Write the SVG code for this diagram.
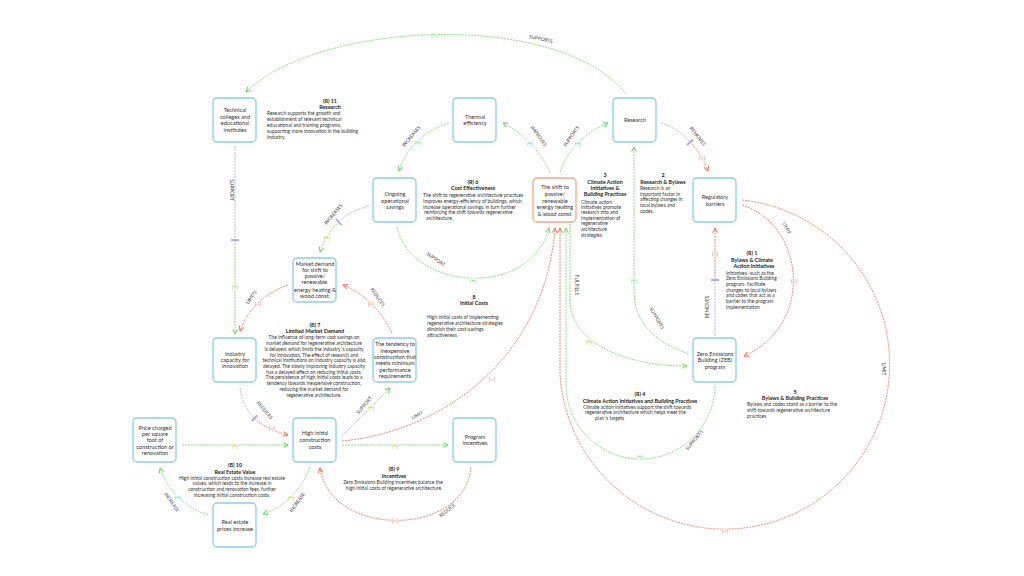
<svg xmlns="http://www.w3.org/2000/svg" width="1024" height="576" viewBox="0 0 1024 576">
<defs>
<marker id="ag" viewBox="0 0 10 10" refX="9" refY="5" markerWidth="6" markerHeight="6" markerUnits="userSpaceOnUse" orient="auto"><path d="M1,1 L9,5 L1,9" fill="none" stroke="#62d655" stroke-width="1.6"/></marker>
<marker id="ar" viewBox="0 0 10 10" refX="9" refY="5" markerWidth="6" markerHeight="6" markerUnits="userSpaceOnUse" orient="auto"><path d="M1,1 L9,5 L1,9" fill="none" stroke="#f06a4c" stroke-width="1.6"/></marker>
<style>
.box{fill:#fff;stroke:#8ccbef;stroke-width:1.3}
.obox{fill:#fff;stroke:#f2a986;stroke-width:1.3}
.n{font-family:Lato,"Liberation Sans",sans-serif;font-size:5.6px;fill:#333;text-anchor:middle}
.t{font-family:Lato,"Liberation Sans",sans-serif;font-size:5.4px;font-weight:bold;fill:#222;text-anchor:middle}
.b{font-family:Lato,"Liberation Sans",sans-serif;font-size:4.9px;fill:#333}
.bc{font-family:Lato,"Liberation Sans",sans-serif;font-size:4.9px;fill:#333;text-anchor:middle}
.lab{font-family:Lato,"Liberation Sans",sans-serif;font-size:4.8px;fill:#444;text-anchor:middle;dominant-baseline:central}
.pp{font-family:Lato,"Liberation Sans",sans-serif;font-size:5.6px;fill:#5fd452;text-anchor:middle;dominant-baseline:central;stroke:#fff;stroke-width:1.4;paint-order:stroke}
.pm{font-family:Lato,"Liberation Sans",sans-serif;font-size:5.6px;fill:#f06a4c;text-anchor:middle;dominant-baseline:central;stroke:#fff;stroke-width:1.4;paint-order:stroke}
.g{fill:none;stroke:#6bdc5c;stroke-width:0.8;stroke-dasharray:2 1}
.r{fill:none;stroke:#f06a4c;stroke-width:0.8;stroke-dasharray:2 1}
.p{fill:none;stroke:#aaa4ee;stroke-width:0.8;stroke-dasharray:2 1}
.bar{stroke:#aaa4ee;stroke-width:1.8}
</style>
</defs>
<rect width="1024" height="576" fill="#fff"/>

<g id="connectors">
<path class="g" d="M626 94 C560 10 320 20 246 92" marker-end="url(#ag)"/>
<path class="p" d="M235 146 V240"/>
<path class="g" d="M235 240 V334" marker-end="url(#ag)"/>
<line class="bar" x1="231" y1="240" x2="239" y2="240"/>
<path class="g" d="M449 123 Q410 136 399 171" marker-end="url(#ag)"/>
<path class="g" d="M550 172 Q533 138 503 123" marker-end="url(#ag)"/>
<path class="g" d="M560 172 Q572 138 608 123" marker-end="url(#ag)"/>
<path class="p" d="M661 123 Q678 128 690 142"/>
<path class="r" d="M690 142 Q701 153 708 171" marker-end="url(#ar)"/>
<line class="bar" x1="687" y1="145" x2="693" y2="139.5"/>
<path class="r" d="M742 200 A165 165 0 1 1 560 375 L560 228" marker-end="url(#ar)"/>
<path class="r" d="M742 205 C805 225 815 325 744 356" marker-end="url(#ar)"/>
<path class="p" d="M715 336 V280"/>
<path class="r" d="M715 280 V228" marker-end="url(#ar)"/>
<line class="bar" x1="711" y1="280" x2="719" y2="280"/>
<path class="g" d="M689 354 C650 340 634 320 634 290 L634 147" marker-end="url(#ag)"/>
<path class="g" d="M570 224 L570 300 C570 340 620 366 687 366" marker-end="url(#ag)"/>
<path class="g" d="M715 386 A74.5 74.5 0 0 1 566 383 L566 228" marker-end="url(#ag)"/>
<path class="g" d="M397 227 C410 290 530 300 549 228" marker-end="url(#ag)"/>
<path class="p" d="M369 206 Q351 210.5 338.75 222"/>
<path class="g" d="M338.75 222 Q326.5 233.5 320 252" marker-end="url(#ag)"/>
<line class="bar" x1="336" y1="219" x2="341.5" y2="225"/>
<path class="r" d="M288 285 Q252 298 240 331" marker-end="url(#ar)"/>
<path class="r" d="M392 333 Q374 297 343 285" marker-end="url(#ar)"/>
<path class="p" d="M240 388 Q242.5 406.5 254.5 418.25"/>
<path class="r" d="M254.5 418.25 Q266.5 430 288 435" marker-end="url(#ar)"/>
<line class="bar" x1="251.7" y1="421.2" x2="257.3" y2="415.3"/>
<path class="g" d="M342 436 Q376 402 390 388" marker-end="url(#ag)"/>
<path class="r" d="M342 441 C440 432 545 360 555 228" marker-end="url(#ar)"/>
<path class="g" d="M342 445 L448 445" marker-end="url(#ag)"/>
<path class="g" d="M182 445 L288 445" marker-end="url(#ag)"/>
<path class="r" d="M471 467 C465 538 330 538 320 468" marker-end="url(#ar)"/>
<path class="g" d="M310 467 Q295.5 503.5 263 514" marker-end="url(#ag)"/>
<path class="g" d="M208 515 Q172 502.5 160 468" marker-end="url(#ag)"/>

<text class="lab" transform="translate(541,38.5) rotate(12)">SUPPORTS</text>
<text class="lab" transform="translate(232,190) rotate(90)">SUPPORT</text>
<text class="lab" transform="translate(411,136) rotate(-50)">INCREASES</text>
<text class="lab" transform="translate(539,136) rotate(55)">IMPROVES</text>
<text class="lab" transform="translate(571,136) rotate(-55)">SUPPORTS</text>
<text class="lab" transform="translate(698,136) rotate(52)">REMOVES</text>
<text class="lab" transform="translate(787,228) rotate(62)">LIMIT</text>
<text class="lab" transform="translate(707,307) rotate(-90)">REMOVES</text>
<text class="lab" transform="translate(657,318) rotate(60)">SUPPORTS</text>
<text class="lab" transform="translate(577,285) rotate(90)">FULFILLS</text>
<text class="lab" transform="translate(694,440) rotate(-50)">SUPPORTS</text>
<text class="lab" transform="translate(884,369) rotate(90)">LIMIT</text>
<text class="lab" transform="translate(436,259) rotate(35)">SUPPORT</text>
<text class="lab" transform="translate(333,214) rotate(-50)">INCREASES</text>
<text class="lab" transform="translate(251,297) rotate(-55)">LIMITS</text>
<text class="lab" transform="translate(378,297) rotate(55)">REDUCES</text>
<text class="lab" transform="translate(265,410) rotate(50)">REDUCES</text>
<text class="lab" transform="translate(364,405) rotate(-50)">SUPPORT</text>
<text class="lab" transform="translate(417,415) rotate(-30)">LIMIT</text>
<text class="lab" transform="translate(447,510) rotate(-40)">REDUCE</text>
<text class="lab" transform="translate(297,502) rotate(-55)">INCREASE</text>
<text class="lab" transform="translate(172,502) rotate(55)">INCREASE</text>

<text class="pp" x="434" y="34">(+)</text>
<text class="pp" x="235" y="286">(+)</text>
<text class="pp" x="418" y="142.5">(+)</text>
<text class="pp" x="530" y="143">(+)</text>
<text class="pp" x="578" y="143">(+)</text>
<text class="pm" x="702" y="157">(−)</text>
<text class="pm" x="715" y="253">(−)</text>
<text class="pm" x="794" y="280">(−)</text>
<text class="pp" x="634" y="280">(+)</text>
<text class="pp" x="589" y="341">(+)</text>
<text class="pp" x="640" y="456">(+)</text>
<text class="pm" x="725" y="530">(−)</text>
<text class="pp" x="473" y="280">(+)</text>
<text class="pp" x="327" y="237">(+)</text>
<text class="pm" x="258" y="303">(−)</text>
<text class="pm" x="371" y="303">(−)</text>
<text class="pm" x="272" y="427">(−)</text>
<text class="pp" x="371" y="407">(+)</text>
<text class="pm" x="492" y="378">(−)</text>
<text class="pp" x="395" y="445">(+)</text>
<text class="pp" x="235" y="445">(+)</text>
<text class="pm" x="395" y="520">(−)</text>
<text class="pp" x="291" y="497">(+)</text>
<text class="pp" x="178" y="497">(+)</text>
</g>

<g id="n-tech"><rect class="box" x="213" y="98" width="43" height="44" rx="4"/>
<text class="n" x="235" y="112">Technical</text><text class="n" x="235" y="118.7">colleges and</text><text class="n" x="235" y="125.3">educational</text><text class="n" x="235" y="132">institutes</text></g>
<g id="n-thermal"><rect class="box" x="453" y="98" width="43" height="44" rx="4"/>
<text class="n" x="475" y="118.7">Thermal</text><text class="n" x="475" y="125.3">efficiency</text></g>
<g id="n-research"><rect class="box" x="613" y="98" width="43" height="44" rx="4"/>
<text class="n" x="635" y="122">Research</text></g>
<g id="n-ongoing"><rect class="box" x="373" y="178" width="43" height="44" rx="4"/>
<text class="n" x="395" y="196">Ongoing</text><text class="n" x="395" y="202.5">operational</text><text class="n" x="395" y="209">savings</text></g>
<g id="n-shift"><rect class="obox" x="533" y="178" width="43" height="44" rx="4"/>
<text class="n" x="555" y="189.3">The shift to</text><text class="n" x="555" y="196">passive/</text><text class="n" x="555" y="202.7">renewable</text><text class="n" x="555" y="209.3">energy heating</text><text class="n" x="555" y="216">&amp; wood const.</text></g>
<g id="n-regulatory"><rect class="box" x="693" y="178" width="43" height="44" rx="4"/>
<text class="n" x="715" y="199">Regulatory</text><text class="n" x="715" y="205.5">barriers</text></g>
<g id="n-market"><rect class="box" x="293" y="258" width="43" height="44" rx="4"/>
<text class="n" x="315" y="266">Market demand</text><text class="n" x="315" y="272">for shift to</text><text class="n" x="315" y="278">passive/</text><text class="n" x="315" y="284">renewable.</text><text class="n" x="315" y="291.5">energy heating &amp;</text><text class="n" x="315" y="298">wood const.</text></g>
<g id="n-industry"><rect class="box" x="213" y="338" width="43" height="44" rx="4"/>
<text class="n" x="235" y="356">Industry</text><text class="n" x="235" y="362">capacity for</text><text class="n" x="235" y="368">innovation</text></g>
<g id="n-tendency"><rect class="box" x="373" y="338" width="43" height="44" rx="4"/>
<text class="n" x="395" y="346.3">The tendency to</text><text class="n" x="395" y="352.5">inexpensive</text><text class="n" x="395" y="358.7">construction that</text><text class="n" x="395" y="365.3">meets minimum</text><text class="n" x="395" y="371.5">performance</text><text class="n" x="395" y="378">requirements</text></g>
<g id="n-zeb"><rect class="box" x="693" y="338" width="43" height="44" rx="4"/>
<text class="n" x="715" y="356">Zero Emissions</text><text class="n" x="715" y="362.3">Building (ZEB)</text><text class="n" x="715" y="368.7">program</text></g>
<g id="n-price"><rect class="box" x="133" y="418" width="43" height="44" rx="4"/>
<text class="n" x="155" y="429.7">Price charged</text><text class="n" x="155" y="436">per square</text><text class="n" x="155" y="442.3">foot of</text><text class="n" x="155" y="448.7">construction or</text><text class="n" x="155" y="455">renovation</text></g>
<g id="n-high"><rect class="box" x="293" y="418" width="43" height="44" rx="4"/>
<text class="n" x="315" y="435.3">High initial</text><text class="n" x="315" y="442">construction</text><text class="n" x="315" y="448.7">costs</text></g>
<g id="n-program"><rect class="box" x="453" y="418" width="43" height="44" rx="4"/>
<text class="n" x="475" y="438.7">Program</text><text class="n" x="475" y="445.3">incentives</text></g>
<g id="n-realestate"><rect class="box" x="213" y="503" width="43" height="44" rx="4"/>
<text class="n" x="235" y="524.3">Real estate</text><text class="n" x="235" y="531">prices increase</text></g>

<g id="loops">
<text class="t" x="330" y="103">(R) 11</text><text class="t" x="330" y="109">Research</text>
<text class="b" x="267" y="115.3">Research supports the growth and</text>
<text class="b" x="267" y="121">establishment of relevant technical</text>
<text class="b" x="267" y="127">educational and training programs,</text>
<text class="b" x="267" y="132.7">supporting more innovation in the building</text>
<text class="b" x="267" y="138.7">industry.</text>

<text class="t" x="473" y="183.7">(R) 6</text><text class="t" x="473" y="190">Cost Effectiveness</text>
<text class="b" x="423" y="197">The shift to regenerative architecture practices</text>
<text class="b" x="423" y="202.7">improves energy-efficiency of buildings, which</text>
<text class="b" x="423" y="208.7">increase operational savings, in turn further</text>
<text class="b" x="424" y="214.3"> reinforcing the shift towards regenerative</text>
<text class="b" x="426" y="219.7">architecture.</text>

<text class="t" x="605" y="177">3</text><text class="t" x="605" y="183.7">Climate Action</text><text class="t" x="605" y="190.3">Initiatives &amp;</text><text class="t" x="605" y="196.3">Building Practices</text>
<text class="b" x="581" y="203.7">Climate action</text>
<text class="b" x="581" y="208.9">initiatives promote</text>
<text class="b" x="581" y="214.3">research into and</text>
<text class="b" x="581" y="219.7">implementation of</text>
<text class="b" x="581" y="225.3">regenerative</text>
<text class="b" x="581" y="231">architecture</text>
<text class="b" x="581" y="237">strategies.</text>

<text class="t" x="663" y="177">2</text><text class="t" x="663" y="183.7">Research &amp; Bylaws</text>
<text class="b" x="640" y="190.3">Research is an</text>
<text class="b" x="640" y="196">important factor in</text>
<text class="b" x="640" y="201.3">affecting changes in</text>
<text class="b" x="640" y="207">local bylaws and</text>
<text class="b" x="640" y="212.7">codes.</text>

<text class="t" x="752" y="255.3">(R) 1</text><text class="t" x="752" y="262">Bylaws &amp; Climate</text><text class="t" x="754" y="268">Action Initiatives</text>
<text class="b" x="726" y="274.7">Initiatives -such as the</text>
<text class="b" x="726" y="280.3">Zero Emissions Building</text>
<text class="b" x="726" y="286">program- facilitate</text>
<text class="b" x="726" y="291.7">changes to local bylaws</text>
<text class="b" x="726" y="297.3">and codes that act as a</text>
<text class="b" x="726" y="303">barrier to the program</text>
<text class="b" x="726" y="308.7">implementation</text>

<text class="t" x="795" y="393.7">5</text><text class="t" x="795" y="400">Bylaws &amp; Building Practices</text>
<text class="b" x="747" y="406.3">Bylaws and codes stand as a barrier to the</text>
<text class="b" x="747" y="412">shift towards regenerative architecture</text>
<text class="b" x="747" y="417.7">practices</text>

<text class="t" x="640" y="396">(R) 4</text><text class="t" x="640" y="402.7">Climate Action Initiatives and Building Practices</text>
<text class="b" x="583" y="408.7">Climate action initiatives support the shift towards</text>
<text class="b" x="585" y="414.3">regenerative architecture which helps meet the</text>
<text class="b" x="595" y="420.3">plan´s targets</text>

<text class="t" x="474" y="298.7">8</text><text class="t" x="474" y="305">Initial Costs</text>
<text class="b" x="427" y="318.7">High initial costs of implementing</text>
<text class="b" x="427" y="324.7">regenerative architecture strategies</text>
<text class="b" x="427" y="331">diminish their cost-savings</text>
<text class="b" x="427" y="337">attractiveness</text>

<text class="t" x="315" y="327">(B) 7</text><text class="t" x="315" y="333">Limited Market Demand</text>
<text class="bc" x="314" y="339.3">The influence of long-term cost savings on</text>
<text class="bc" x="314" y="345.3">market demand for regenerative architecture</text>
<text class="bc" x="314" y="351">is delayed, which limits the industry´s capacity</text>
<text class="bc" x="314" y="356.5">for innovation. The effect of research and</text>
<text class="bc" x="314" y="362">technical institutions on industry capacity is also</text>
<text class="bc" x="314" y="368">delayed. The slowly improving industry capacity</text>
<text class="bc" x="314" y="373.7">has a delayed effect on reducing initial costs.</text>
<text class="bc" x="314" y="379.3">The persistence of high initial costs leads to a</text>
<text class="bc" x="314" y="385.3">tendency towards inexpensive construction,</text>
<text class="bc" x="314" y="391.3">reducing the market demand for</text>
<text class="bc" x="314" y="397">regenerative architecture.</text>

<text class="t" x="235" y="467">(B) 10</text><text class="t" x="235" y="473.5">Real Estate Value</text>
<text class="bc" x="232" y="479.7">High initial construction costs increase real estate</text>
<text class="bc" x="232" y="485.3">values, which leads to the increase in</text>
<text class="bc" x="232" y="491">construction and renovation fees, further</text>
<text class="bc" x="232" y="497">increasing initial construction costs.</text>

<text class="t" x="394" y="471">(B) 9</text><text class="t" x="394" y="478">Incentives</text>
<text class="bc" x="393" y="483.7">Zero Emissions Building incentives balance the</text>
<text class="bc" x="394" y="489.7">high initial costs of regenerative architecture.</text>
</g>
</svg>
